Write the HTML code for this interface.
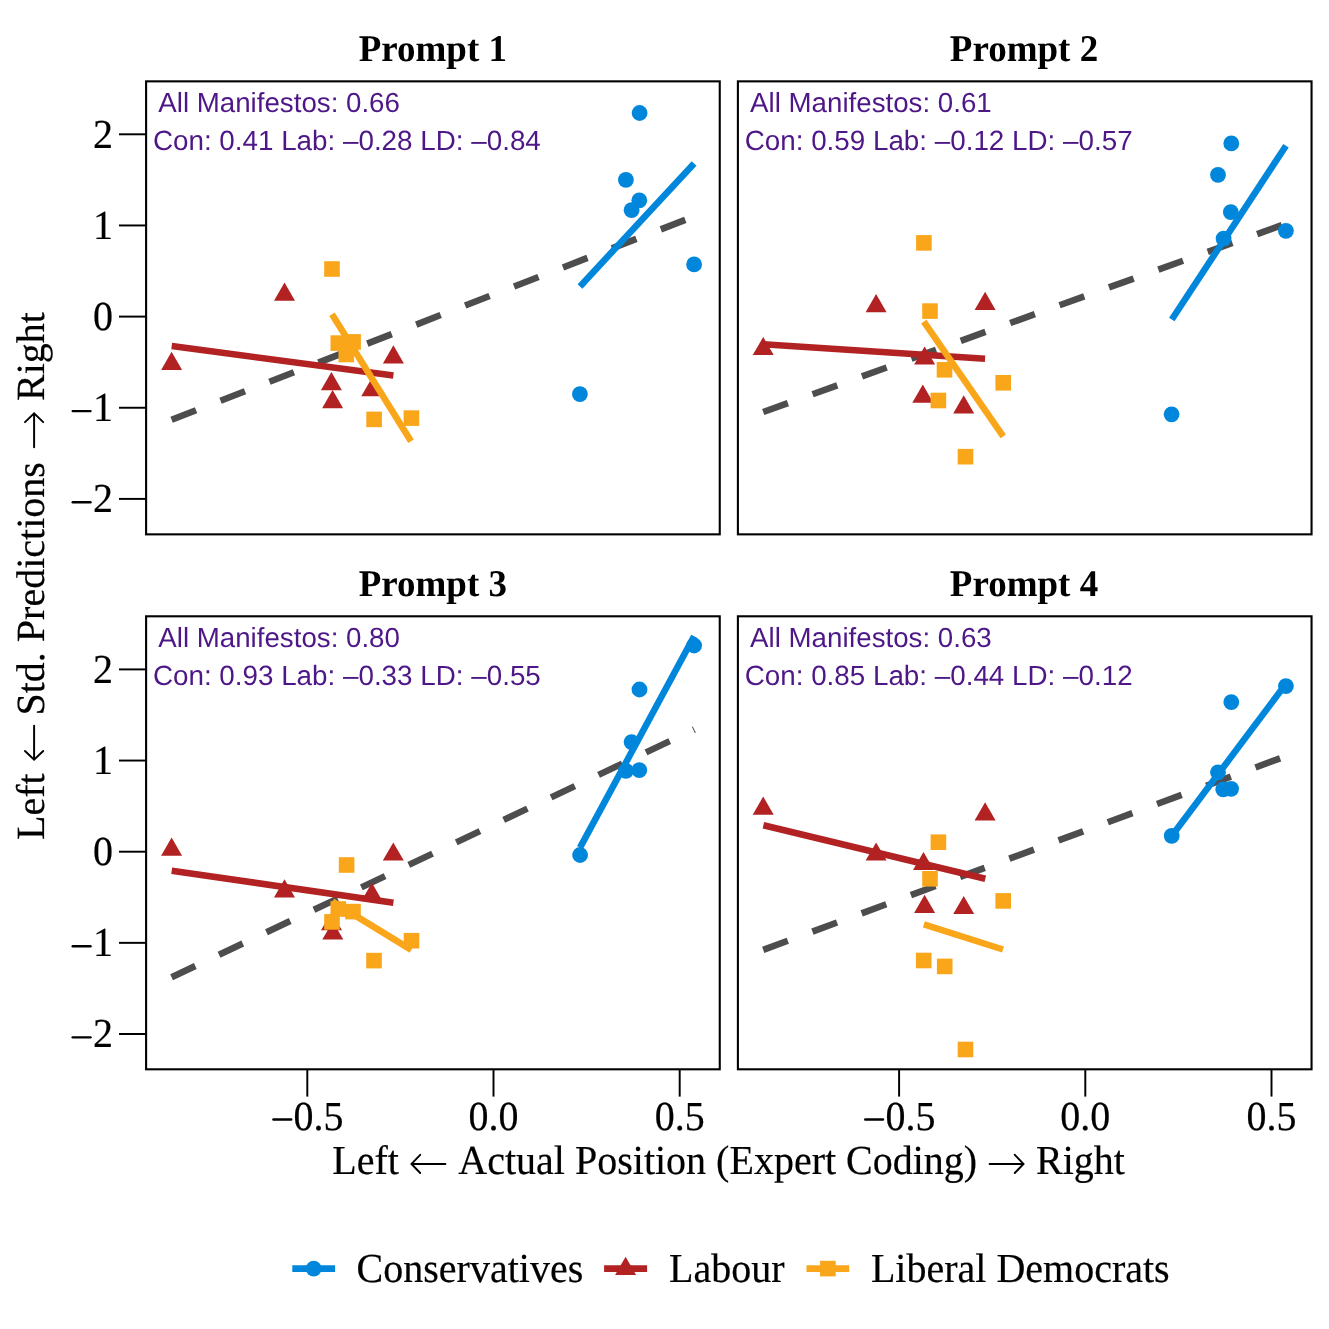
<!DOCTYPE html>
<html><head><meta charset="utf-8"><title>chart</title>
<style>
html,body{margin:0;padding:0;background:#fff;}
body{width:1329px;height:1329px;overflow:hidden;}
svg{display:block;will-change:transform;}
text{font-family:"Liberation Serif",serif;fill:#000;text-rendering:geometricPrecision;}
.ann{font-family:"Liberation Sans",sans-serif;fill:#4E1787;font-size:27.7px;}
.ann2{font-family:"Liberation Sans",sans-serif;fill:#4E1787;font-size:27.8px;}
.tk,.axs,.lg{stroke:#000;stroke-width:0.2px;}
.tk{font-size:40px;}
.ttl{font-size:37px;font-weight:bold;}
.axs{font-size:40px;}
.lg{font-size:40px;}
</style></head><body>
<svg width="1329" height="1329" viewBox="0 0 1329 1329">
<rect x="0" y="0" width="1329" height="1329" fill="#ffffff"/>
<!-- Prompt 1 -->
<g>
<line x1="171.6" y1="419.8" x2="694.1" y2="216.4" stroke="#4D4D4D" stroke-width="6.55" stroke-dasharray="26.25 26.25"/>
<polygon points="171.6,351.7 182.1,369.9 161.1,369.9" fill="#B22222"/>
<polygon points="284.5,282.5 295.0,300.7 274.0,300.7" fill="#B22222"/>
<polygon points="331.4,372.0 341.9,390.2 320.9,390.2" fill="#B22222"/>
<polygon points="332.6,390.0 343.1,408.2 322.1,408.2" fill="#B22222"/>
<polygon points="371.8,378.1 382.3,396.2 361.3,396.2" fill="#B22222"/>
<polygon points="393.4,345.3 403.9,363.4 382.9,363.4" fill="#B22222"/>
<rect x="324.2" y="261.2" width="15.6" height="15.6" fill="#FAA61A"/>
<rect x="330.5" y="335.3" width="15.6" height="15.6" fill="#FAA61A"/>
<rect x="345.3" y="334.1" width="15.6" height="15.6" fill="#FAA61A"/>
<rect x="338.5" y="346.7" width="15.6" height="15.6" fill="#FAA61A"/>
<rect x="366.3" y="411.6" width="15.6" height="15.6" fill="#FAA61A"/>
<rect x="403.6" y="410.3" width="15.6" height="15.6" fill="#FAA61A"/>
<circle cx="639.6" cy="113.0" r="7.9" fill="#0087DC"/>
<circle cx="625.9" cy="179.8" r="7.9" fill="#0087DC"/>
<circle cx="639.3" cy="200.3" r="7.9" fill="#0087DC"/>
<circle cx="631.6" cy="210.2" r="7.9" fill="#0087DC"/>
<circle cx="694.1" cy="264.4" r="7.9" fill="#0087DC"/>
<circle cx="579.9" cy="394.1" r="7.9" fill="#0087DC"/>
<line x1="580.0" y1="286.4" x2="694.1" y2="163.5" stroke="#0087DC" stroke-width="6.55"/>
<line x1="171.7" y1="346.1" x2="393.4" y2="375.6" stroke="#B22222" stroke-width="6.55"/>
<line x1="332.0" y1="314.2" x2="411.0" y2="441.2" stroke="#FAA61A" stroke-width="6.55"/>
<text class="ann" x="158.3" y="111.60">All Manifestos: 0.66</text>
<text class="ann2" x="152.9" y="149.90">Con: 0.41 Lab: –0.28 LD: –0.84</text>
<rect x="146.1" y="81.35" width="573.65" height="453.0" fill="none" stroke="#000" stroke-width="2.1"/>
<text class="ttl" text-anchor="middle" transform="translate(432.82 61.45) scale(1 1.02)">Prompt 1</text>
<line x1="119.0" y1="134.30" x2="146.1" y2="134.30" stroke="#000" stroke-width="1.95"/>
<text class="tk" text-anchor="end" transform="translate(112.90 147.70) scale(1 1.03)">2</text>
<line x1="119.0" y1="225.45" x2="146.1" y2="225.45" stroke="#000" stroke-width="1.95"/>
<text class="tk" text-anchor="end" transform="translate(112.90 238.85) scale(1 1.03)">1</text>
<line x1="119.0" y1="316.60" x2="146.1" y2="316.60" stroke="#000" stroke-width="1.95"/>
<text class="tk" text-anchor="end" transform="translate(112.90 330.00) scale(1 1.03)">0</text>
<line x1="119.0" y1="407.75" x2="146.1" y2="407.75" stroke="#000" stroke-width="1.95"/>
<text class="tk" text-anchor="end" transform="translate(112.90 421.15) scale(1 1.03)">1</text>
<line x1="72.74" y1="411.10" x2="90.50" y2="411.10" stroke="#000" stroke-width="2.4" stroke-linecap="round"/>
<line x1="119.0" y1="498.90" x2="146.1" y2="498.90" stroke="#000" stroke-width="1.95"/>
<text class="tk" text-anchor="end" transform="translate(112.90 512.30) scale(1 1.03)">2</text>
<line x1="72.74" y1="502.25" x2="90.50" y2="502.25" stroke="#000" stroke-width="2.4" stroke-linecap="round"/>
</g>
<!-- Prompt 2 -->
<g>
<line x1="763.2" y1="412.0" x2="1285.9" y2="223.7" stroke="#4D4D4D" stroke-width="6.55" stroke-dasharray="26.25 26.25"/>
<polygon points="763.2,336.9 773.7,355.1 752.7,355.1" fill="#B22222"/>
<polygon points="876.1,294.0 886.6,312.2 865.6,312.2" fill="#B22222"/>
<polygon points="985.1,291.7 995.6,309.9 974.6,309.9" fill="#B22222"/>
<polygon points="924.6,346.4 935.1,364.6 914.1,364.6" fill="#B22222"/>
<polygon points="922.8,384.5 933.3,402.7 912.3,402.7" fill="#B22222"/>
<polygon points="963.7,395.3 974.2,413.4 953.2,413.4" fill="#B22222"/>
<rect x="916.1" y="235.1" width="15.6" height="15.6" fill="#FAA61A"/>
<rect x="922.2" y="303.3" width="15.6" height="15.6" fill="#FAA61A"/>
<rect x="936.7" y="362.0" width="15.6" height="15.6" fill="#FAA61A"/>
<rect x="995.4" y="375.0" width="15.6" height="15.6" fill="#FAA61A"/>
<rect x="930.6" y="392.7" width="15.6" height="15.6" fill="#FAA61A"/>
<rect x="957.7" y="448.9" width="15.6" height="15.6" fill="#FAA61A"/>
<circle cx="1231.3" cy="143.4" r="7.9" fill="#0087DC"/>
<circle cx="1218.0" cy="174.8" r="7.9" fill="#0087DC"/>
<circle cx="1230.8" cy="212.1" r="7.9" fill="#0087DC"/>
<circle cx="1223.6" cy="238.7" r="7.9" fill="#0087DC"/>
<circle cx="1285.9" cy="230.8" r="7.9" fill="#0087DC"/>
<circle cx="1171.6" cy="414.3" r="7.9" fill="#0087DC"/>
<line x1="1171.8" y1="319.5" x2="1286.0" y2="145.7" stroke="#0087DC" stroke-width="6.55"/>
<line x1="763.2" y1="344.2" x2="985.1" y2="358.8" stroke="#B22222" stroke-width="6.55"/>
<line x1="923.8" y1="321.6" x2="1003.2" y2="436.4" stroke="#FAA61A" stroke-width="6.55"/>
<text class="ann" x="750.1" y="111.60">All Manifestos: 0.61</text>
<text class="ann2" x="744.7" y="149.90">Con: 0.59 Lab: –0.12 LD: –0.57</text>
<rect x="737.9" y="81.35" width="573.65" height="453.0" fill="none" stroke="#000" stroke-width="2.1"/>
<text class="ttl" text-anchor="middle" transform="translate(1024.02 61.45) scale(1 1.02)">Prompt 2</text>
</g>
<!-- Prompt 3 -->
<g>
<line x1="171.6" y1="977.3" x2="694.1" y2="729.6" stroke="#4D4D4D" stroke-width="6.55" stroke-dasharray="26.25 26.25"/>
<line x1="692.2" y1="726.3" x2="695.7" y2="732.9" stroke="#4D4D4D" stroke-width="0.5"/>
<polygon points="171.6,837.6 182.1,855.8 161.1,855.8" fill="#B22222"/>
<polygon points="284.5,879.3 295.0,897.4 274.0,897.4" fill="#B22222"/>
<polygon points="393.3,842.5 403.8,860.6 382.8,860.6" fill="#B22222"/>
<polygon points="371.9,882.8 382.4,900.9 361.4,900.9" fill="#B22222"/>
<polygon points="332.8,921.5 343.3,939.6 322.3,939.6" fill="#B22222"/>
<polygon points="331.5,912.1 342.0,930.2 321.0,930.2" fill="#B22222"/>
<rect x="338.8" y="857.2" width="15.6" height="15.6" fill="#FAA61A"/>
<rect x="330.5" y="901.2" width="15.6" height="15.6" fill="#FAA61A"/>
<rect x="345.2" y="903.8" width="15.6" height="15.6" fill="#FAA61A"/>
<rect x="324.2" y="914.1" width="15.6" height="15.6" fill="#FAA61A"/>
<rect x="366.2" y="952.8" width="15.6" height="15.6" fill="#FAA61A"/>
<rect x="403.7" y="932.9" width="15.6" height="15.6" fill="#FAA61A"/>
<circle cx="694.1" cy="645.5" r="7.9" fill="#0087DC"/>
<circle cx="639.5" cy="689.5" r="7.9" fill="#0087DC"/>
<circle cx="631.6" cy="742.1" r="7.9" fill="#0087DC"/>
<circle cx="625.9" cy="770.8" r="7.9" fill="#0087DC"/>
<circle cx="639.3" cy="770.1" r="7.9" fill="#0087DC"/>
<circle cx="580.1" cy="855.0" r="7.9" fill="#0087DC"/>
<line x1="580.0" y1="847.6" x2="694.1" y2="636.3" stroke="#0087DC" stroke-width="6.55"/>
<line x1="171.7" y1="870.8" x2="393.4" y2="902.7" stroke="#B22222" stroke-width="6.55"/>
<line x1="332.5" y1="901.6" x2="411.3" y2="949.9" stroke="#FAA61A" stroke-width="6.55"/>
<text class="ann" x="158.3" y="646.55">All Manifestos: 0.80</text>
<text class="ann2" x="152.9" y="684.85">Con: 0.93 Lab: –0.33 LD: –0.55</text>
<rect x="146.1" y="616.3" width="573.65" height="453.0" fill="none" stroke="#000" stroke-width="2.1"/>
<text class="ttl" text-anchor="middle" transform="translate(432.82 596.40) scale(1 1.02)">Prompt 3</text>
<line x1="119.0" y1="669.40" x2="146.1" y2="669.40" stroke="#000" stroke-width="1.95"/>
<text class="tk" text-anchor="end" transform="translate(112.90 682.80) scale(1 1.03)">2</text>
<line x1="119.0" y1="760.55" x2="146.1" y2="760.55" stroke="#000" stroke-width="1.95"/>
<text class="tk" text-anchor="end" transform="translate(112.90 773.95) scale(1 1.03)">1</text>
<line x1="119.0" y1="851.70" x2="146.1" y2="851.70" stroke="#000" stroke-width="1.95"/>
<text class="tk" text-anchor="end" transform="translate(112.90 865.10) scale(1 1.03)">0</text>
<line x1="119.0" y1="942.85" x2="146.1" y2="942.85" stroke="#000" stroke-width="1.95"/>
<text class="tk" text-anchor="end" transform="translate(112.90 956.25) scale(1 1.03)">1</text>
<line x1="72.74" y1="946.20" x2="90.50" y2="946.20" stroke="#000" stroke-width="2.4" stroke-linecap="round"/>
<line x1="119.0" y1="1034.00" x2="146.1" y2="1034.00" stroke="#000" stroke-width="1.95"/>
<text class="tk" text-anchor="end" transform="translate(112.90 1047.40) scale(1 1.03)">2</text>
<line x1="72.74" y1="1037.35" x2="90.50" y2="1037.35" stroke="#000" stroke-width="2.4" stroke-linecap="round"/>
<line x1="307.30" y1="1069.3" x2="307.30" y2="1096.6" stroke="#000" stroke-width="1.95"/>
<text class="tk" transform="translate(293.58 1129.50) scale(1 1.03)">0.5</text>
<line x1="273.42" y1="1119.45" x2="291.18" y2="1119.45" stroke="#000" stroke-width="2.4" stroke-linecap="round"/>
<line x1="493.50" y1="1069.3" x2="493.50" y2="1096.6" stroke="#000" stroke-width="1.95"/>
<text class="tk" text-anchor="middle" transform="translate(493.50 1129.50) scale(1 1.03)">0.0</text>
<line x1="679.70" y1="1069.3" x2="679.70" y2="1096.6" stroke="#000" stroke-width="1.95"/>
<text class="tk" text-anchor="middle" transform="translate(679.70 1129.50) scale(1 1.03)">0.5</text>
</g>
<!-- Prompt 4 -->
<g>
<line x1="763.2" y1="949.9" x2="1285.9" y2="756.2" stroke="#4D4D4D" stroke-width="6.55" stroke-dasharray="26.25 26.25"/>
<polygon points="763.2,796.6 773.7,814.8 752.7,814.8" fill="#B22222"/>
<polygon points="876.1,842.4 886.6,860.5 865.6,860.5" fill="#B22222"/>
<polygon points="923.5,852.0 934.0,870.1 913.0,870.1" fill="#B22222"/>
<polygon points="924.6,894.8 935.1,912.9 914.1,912.9" fill="#B22222"/>
<polygon points="963.7,895.9 974.2,914.0 953.2,914.0" fill="#B22222"/>
<polygon points="985.1,802.3 995.6,820.4 974.6,820.4" fill="#B22222"/>
<rect x="930.6" y="834.4" width="15.6" height="15.6" fill="#FAA61A"/>
<rect x="922.2" y="871.0" width="15.6" height="15.6" fill="#FAA61A"/>
<rect x="995.4" y="893.1" width="15.6" height="15.6" fill="#FAA61A"/>
<rect x="915.9" y="952.7" width="15.6" height="15.6" fill="#FAA61A"/>
<rect x="936.9" y="958.6" width="15.6" height="15.6" fill="#FAA61A"/>
<rect x="957.7" y="1041.7" width="15.6" height="15.6" fill="#FAA61A"/>
<circle cx="1285.9" cy="686.1" r="7.9" fill="#0087DC"/>
<circle cx="1231.3" cy="702.1" r="7.9" fill="#0087DC"/>
<circle cx="1218.0" cy="772.3" r="7.9" fill="#0087DC"/>
<circle cx="1223.2" cy="789.3" r="7.9" fill="#0087DC"/>
<circle cx="1231.1" cy="788.8" r="7.9" fill="#0087DC"/>
<circle cx="1171.7" cy="835.8" r="7.9" fill="#0087DC"/>
<line x1="1171.7" y1="836.0" x2="1285.9" y2="683.9" stroke="#0087DC" stroke-width="6.55"/>
<line x1="763.4" y1="825.2" x2="985.3" y2="878.7" stroke="#B22222" stroke-width="6.55"/>
<line x1="923.9" y1="924.4" x2="1003.0" y2="949.5" stroke="#FAA61A" stroke-width="6.55"/>
<text class="ann" x="750.1" y="646.55">All Manifestos: 0.63</text>
<text class="ann2" x="744.7" y="684.85">Con: 0.85 Lab: –0.44 LD: –0.12</text>
<rect x="737.9" y="616.3" width="573.65" height="453.0" fill="none" stroke="#000" stroke-width="2.1"/>
<text class="ttl" text-anchor="middle" transform="translate(1024.02 596.40) scale(1 1.02)">Prompt 4</text>
<line x1="899.10" y1="1069.3" x2="899.10" y2="1096.6" stroke="#000" stroke-width="1.95"/>
<text class="tk" transform="translate(885.38 1129.50) scale(1 1.03)">0.5</text>
<line x1="865.22" y1="1119.45" x2="882.98" y2="1119.45" stroke="#000" stroke-width="2.4" stroke-linecap="round"/>
<line x1="1085.30" y1="1069.3" x2="1085.30" y2="1096.6" stroke="#000" stroke-width="1.95"/>
<text class="tk" text-anchor="middle" transform="translate(1085.30 1129.50) scale(1 1.03)">0.0</text>
<line x1="1271.50" y1="1069.3" x2="1271.50" y2="1096.6" stroke="#000" stroke-width="1.95"/>
<text class="tk" text-anchor="middle" transform="translate(1271.50 1129.50) scale(1 1.03)">0.5</text>
</g>
<text class="axs" transform="translate(332.25 1174.10) scale(1 1.03)">Left</text>
<path d="M445.40,1163.90 H411.70 M420.20,1154.80 L411.50,1163.90 L420.20,1173.00" stroke="#000" stroke-width="1.95" fill="none" stroke-linecap="round" stroke-linejoin="miter"/>
<text class="axs" transform="translate(458.35 1174.10) scale(1 1.03)">Actual Position (Expert Coding)</text>
<path d="M989.60,1163.90 H1023.30 M1014.80,1154.80 L1023.50,1163.90 L1014.80,1173.00" stroke="#000" stroke-width="1.95" fill="none" stroke-linecap="round" stroke-linejoin="miter"/>
<text class="axs" transform="translate(1035.95 1174.10) scale(1 1.03)">Right</text>
<g transform="translate(44.2,575.3) rotate(-90)">
<text class="axs" transform="translate(-264.75 0.00) scale(1 1.0)">Left</text>
<path d="M-150.50,-10.10 H-184.20 M-175.70,-19.20 L-184.40,-10.10 L-175.70,-1.00" stroke="#000" stroke-width="1.95" fill="none" stroke-linecap="round" stroke-linejoin="miter"/>
<text class="axs" transform="translate(-140.20 0.00) scale(1 1.0)">Std. Predictions</text>
<path d="M128.00,-10.10 H161.70 M153.20,-19.20 L161.90,-10.10 L153.20,-1.00" stroke="#000" stroke-width="1.95" fill="none" stroke-linecap="round" stroke-linejoin="miter"/>
<text class="axs" transform="translate(174.35 0.00) scale(1 1.0)">Right</text>
</g>
<line x1="292.3" y1="1268.6" x2="335.1" y2="1268.6" stroke="#0087DC" stroke-width="6.55"/>
<circle cx="313.7" cy="1268.6" r="7.9" fill="#0087DC"/>
<text class="lg" transform="translate(356.60 1282.10) scale(1 1.03)">Conservatives</text>
<line x1="604.1" y1="1268.6" x2="647.1" y2="1268.6" stroke="#B22222" stroke-width="6.55"/>
<polygon points="625.6,1256.8 636.1,1274.9 615.1,1274.9" fill="#B22222"/>
<text class="lg" transform="translate(669.00 1282.10) scale(1 1.03)">Labour</text>
<line x1="806.5" y1="1268.6" x2="849.2" y2="1268.6" stroke="#FAA61A" stroke-width="6.55"/>
<rect x="820.1" y="1260.8" width="15.6" height="15.6" fill="#FAA61A"/>
<text class="lg" transform="translate(870.90 1282.10) scale(1 1.03)">Liberal Democrats</text>
</svg></body></html>
